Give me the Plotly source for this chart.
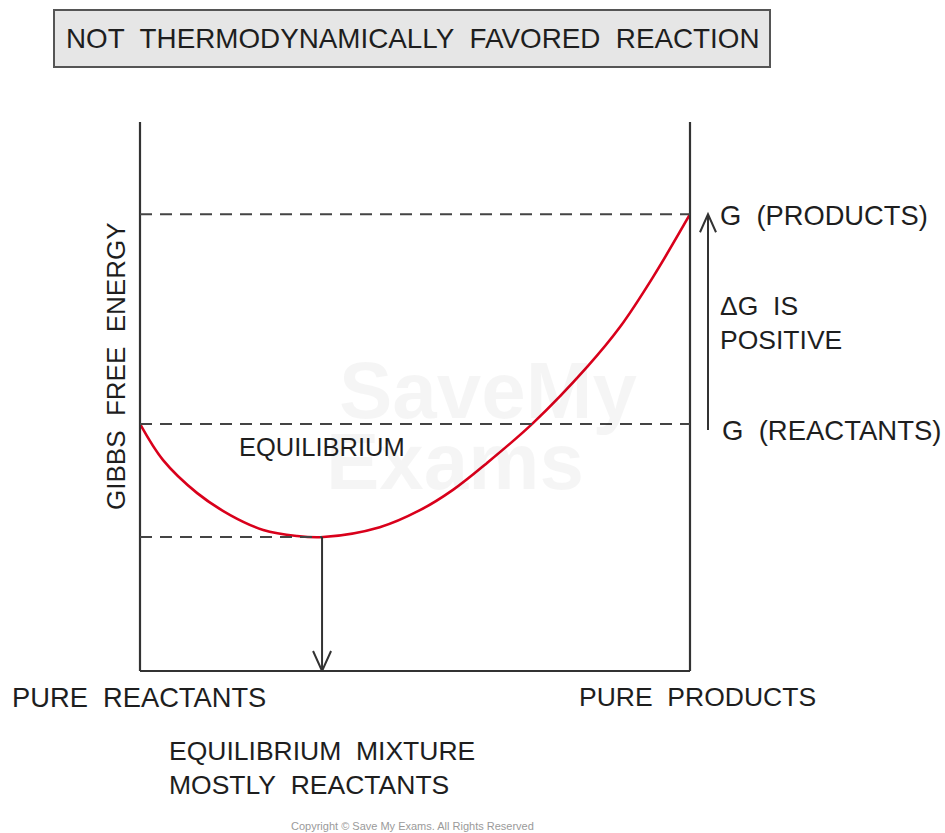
import plotly.graph_objects as go

# ---- data (reaction coordinate 0 = pure reactants, 1 = pure products) ----
curve_x = [0.0, 0.042, 0.104, 0.164, 0.224, 0.285, 0.333, 0.436, 0.509, 0.569,
           0.631, 0.715, 0.813, 0.873, 0.933, 1.0]
curve_g = [0.450, 0.384, 0.324, 0.284, 0.257, 0.246, 0.244, 0.262, 0.293, 0.330,
           0.379, 0.452, 0.554, 0.627, 0.718, 0.832]
g_reactants = 0.450
g_products = 0.832
g_min = 0.244
x_eq = 0.331

title_text = "NOT\u00a0 THERMODYNAMICALLY\u00a0 FAVORED\u00a0 REACTION"
y_label = "GIBBS\u00a0 FREE\u00a0 ENERGY"
x_left_label = "PURE\u00a0 REACTANTS"
x_right_label = "PURE\u00a0 PRODUCTS"
eq_label = "EQUILIBRIUM"
mix_label = "EQUILIBRIUM\u00a0 MIXTURE<br>MOSTLY\u00a0 REACTANTS"
gp_label = "G\u00a0 (PRODUCTS)"
gr_label = "G\u00a0 (REACTANTS)"
dg_label = "\u0394G\u00a0 IS<br>POSITIVE"

W, H = 945, 833
L, R, T, B = 140, 690, 122, 671
PW, PH = R - L, B - T


def px(xp):
    return (xp - L) / PW


def py(yp):
    return (B - yp) / PH


FONT = "Liberation Sans, Arial, sans-serif"
INK = "#1e1e1e"
AX = "#333333"

fig = go.Figure()

fig.add_trace(go.Scatter(
    x=curve_x, y=curve_g, mode="lines",
    line=dict(color="#d9001b", width=2.6, shape="spline", smoothing=1.0),
    hoverinfo="skip", showlegend=False, cliponaxis=False))

shapes = []
# axes frame (left, bottom, right)
for x0, y0, x1, y1 in [(0, 0, 0, 1), (0, 0, 1, 0), (1, 0, 1, 1)]:
    shapes.append(dict(type="line", xref="paper", yref="paper", x0=x0, y0=y0, x1=x1, y1=y1,
                       line=dict(color=AX, width=2.2)))
# dashed guides
dash = "12px,8px"
shapes.append(dict(type="line", xref="x", yref="y", x0=0, x1=1, y0=g_products, y1=g_products,
                   line=dict(color="#444", width=2, dash=dash)))
shapes.append(dict(type="line", xref="x", yref="y", x0=0, x1=1, y0=g_reactants, y1=g_reactants,
                   line=dict(color="#444", width=2, dash=dash)))
shapes.append(dict(type="line", xref="x", yref="y", x0=0, x1=x_eq, y0=g_min, y1=g_min,
                   line=dict(color="#444", width=2, dash=dash)))
# down arrow to equilibrium composition
shapes.append(dict(type="line", xref="x", yref="y", x0=x_eq, x1=x_eq, y0=g_min, y1=0,
                   line=dict(color=AX, width=2)))
hx, hy = 9 / PW, 20 / PH
shapes.append(dict(type="path", xref="x", yref="y",
                   path=f"M {x_eq - hx},{hy} L {x_eq},0 L {x_eq + hx},{hy}",
                   line=dict(color=AX, width=2)))
# up arrow for delta G
xa = px(708)
shapes.append(dict(type="line", xref="paper", yref="y", x0=xa, x1=xa, y0=g_reactants - 6 / PH,
                   y1=g_products, line=dict(color=AX, width=2)))
shapes.append(dict(type="path", xref="paper", yref="y",
                   path=f"M {xa - 8 / PW},{g_products - 18 / PH} L {xa},{g_products} L {xa + 8 / PW},{g_products - 18 / PH}",
                   line=dict(color=AX, width=2)))
# title box
shapes.append(dict(type="rect", xref="paper", yref="paper", x0=px(54), x1=px(770), y0=py(67), y1=py(10),
                   fillcolor="#e6e6e6", line=dict(color="#555", width=2), layer="below"))

ann = []


def text(s, xp, yp, size=26.5, xanchor="left", color=INK, angle=0, align="left"):
    ann.append(dict(text=s, xref="paper", yref="paper", x=px(xp), y=py(yp), showarrow=False,
                    xanchor=xanchor, yanchor="middle", textangle=angle, align=align,
                    font=dict(family=FONT, size=size, color=color)))


# watermark
text("<b>SaveMy</b>", 488, 390, size=80, xanchor="center", color="rgba(0,0,0,0.04)")
text("<b>Exams</b>", 455, 462, size=80, xanchor="center", color="rgba(0,0,0,0.04)")

text(title_text, 412, 39, size=27.8, xanchor="center")
text(gp_label, 718, 215, size=27.3)
text(dg_label, 718, 323)
text(gr_label, 720, 430, size=27.5)
text(eq_label, 237, 447, size=25.5)
text(y_label, 116, 366, size=26, xanchor="center", angle=-90)
text(x_left_label, 10, 697, size=27.3)
text(x_right_label, 577, 697)
text(mix_label, 167, 768)
text("Copyright \u00a9 Save My Exams. All Rights Reserved", 412, 826, size=11, xanchor="center",
     color="#9a9a9a")

fig.update_layout(
    width=W, height=H, autosize=False,
    margin=dict(l=L, r=W - R, t=T, b=H - B, pad=0),
    paper_bgcolor="white", plot_bgcolor="white",
    xaxis=dict(range=[0, 1], visible=False, fixedrange=True),
    yaxis=dict(range=[0, 1], visible=False, fixedrange=True),
    shapes=shapes, annotations=ann, showlegend=False,
)

fig.write_html("out.html", config={"displayModeBar": False},
               post_script="document.body.style.margin='0';document.body.style.overflow='hidden';")
